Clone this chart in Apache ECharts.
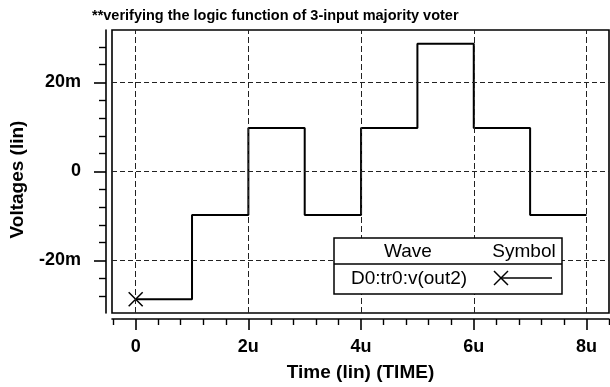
<!DOCTYPE html>
<html>
<head>
<meta charset="utf-8">
<script src="https://cdn.jsdelivr.net/npm/echarts@6/dist/echarts.min.js"></script>
<style>html,body{margin:0;padding:0;background:#fff;}#c{width:610px;height:387px;}</style>
</head>
<body>
<div id="c"></div>
<script>
// time points (u = microseconds) and voltage levels (m = millivolts)
var timeU = [0, 1, 2, 3, 4, 5, 6, 7, 8];
var voltM = [-28.7, -9.8, 9.8, -9.8, 9.8, 28.7, 9.8, -9.8, -9.8];
var xMajor = [0, 2, 4, 6, 8];
var xMinor = [-0.4, 0.4, 0.8, 1.2, 1.6, 2.4, 2.8, 3.2, 3.6, 4.4, 4.8, 5.2, 5.6, 6.4, 6.8, 7.2, 7.6, 8.4];
var yMajor = [-20, 0, 20];
var yMinor = [-28, -24, -16, -12, -8, -4, 4, 8, 12, 16, 24, 28];
var titleText = '**verifying the logic function of 3-input majority voter';
var seriesName = 'D0:tr0:v(out2)';

var FONT = '"Liberation Sans", Arial, sans-serif';
var X = [-0.42, 8.4], Y = [-31.8, 31.8];

var data = timeU.map(function (t, i) {
  var p = { value: [t, voltM[i]] };
  if (i === 0) { p.symbol = 'path://M0,0L10,10M10,0L0,10'; p.symbolSize = 14; }
  else { p.symbol = 'none'; }
  return p;
});

var gridMarks = xMajor.map(function (v) { return { xAxis: v, lineStyle: { type: [6, 3] } }; })
  .concat(yMajor.map(function (v) { return { yAxis: v, lineStyle: { type: [5, 3] } }; }));

function xFmt(v) { return v === 0 ? '0' : v + 'u'; }
function yFmt(v) { return v === 0 ? '0' : v + 'm'; }

var chart = echarts.init(document.getElementById('c'), null, { renderer: 'canvas' });
chart.setOption({
  animation: false,
  backgroundColor: '#fff',
  title: {
    text: titleText, left: 87, top: 3,
    textStyle: { fontFamily: FONT, fontSize: 14.5, fontWeight: 'bold', color: '#000' }
  },
  grid: { left: 109, right: 1, top: 30, bottom: 73, show: true, borderColor: '#000', borderWidth: 1.6, backgroundColor: 'transparent' },
  xAxis: [
    { type: 'value', min: X[0], max: X[1], position: 'bottom', offset: 6,
      axisLine: { show: true, onZero: false, lineStyle: { color: '#000', width: 1.6 } },
      axisTick: { show: true, length: 6, customValues: xMinor, lineStyle: { color: '#000', width: 1.4 } },
      axisLabel: { show: false }, splitLine: { show: false },
      name: 'Time (lin) (TIME)', nameLocation: 'middle', nameGap: 44,
      nameTextStyle: { fontFamily: FONT, fontSize: 19, fontWeight: 'bold', color: '#000' } },
    { type: 'value', min: X[0], max: X[1], position: 'bottom', offset: 6,
      axisLine: { show: false, onZero: false },
      axisTick: { show: true, length: 11, customValues: xMajor, lineStyle: { color: '#000', width: 1.6 } },
      axisLabel: { show: true, customValues: xMajor, formatter: xFmt, margin: 19,
        fontFamily: FONT, fontSize: 18, fontWeight: 'bold', color: '#000' },
      splitLine: { show: false } }
  ],
  yAxis: [
    { type: 'value', min: Y[0], max: Y[1], position: 'left', offset: 6,
      axisLine: { show: true, onZero: false, lineStyle: { color: '#000', width: 1.6 } },
      axisTick: { show: true, length: 7, customValues: yMinor, lineStyle: { color: '#000', width: 1.4 } },
      axisLabel: { show: false }, splitLine: { show: false },
      name: 'Voltages (lin)', nameLocation: 'middle', nameGap: 79, nameRotate: 90,
      nameTextStyle: { fontFamily: FONT, fontSize: 19, fontWeight: 'bold', color: '#000', padding: [0, 16, 0, 0] } },
    { type: 'value', min: Y[0], max: Y[1], position: 'left', offset: 6,
      axisLine: { show: false, onZero: false },
      axisTick: { show: true, length: 12, customValues: yMajor, lineStyle: { color: '#000', width: 1.6 } },
      axisLabel: { show: true, customValues: yMajor, formatter: yFmt, margin: 25,
        fontFamily: FONT, fontSize: 18, fontWeight: 'bold', color: '#000' },
      splitLine: { show: false } }
  ],
  series: [{
    name: seriesName, type: 'line', step: 'end', xAxisIndex: 0, yAxisIndex: 0,
    data: data, showSymbol: true, showAllSymbol: true,
    lineStyle: { color: '#000', width: 2 },
    itemStyle: { color: '#000', borderColor: '#000', borderWidth: 1.5 },
    markLine: { silent: true, symbol: 'none', label: { show: false },
      lineStyle: { color: '#222', width: 1 }, data: gridMarks },
    z: 3
  }],
  graphic: [
    { type: 'rect', z: 100, shape: { x: 334, y: 238, width: 228, height: 56 },
      style: { fill: '#fff', stroke: '#000', lineWidth: 1.5 } },
    { type: 'line', z: 101, shape: { x1: 334, y1: 264, x2: 562, y2: 264 }, style: { stroke: '#000', lineWidth: 1.5 } },
    { type: 'text', z: 101, x: 408, y: 252, style: { text: 'Wave', font: '19px ' + FONT, fill: '#000', align: 'center', verticalAlign: 'middle' } },
    { type: 'text', z: 101, x: 524, y: 252, style: { text: 'Symbol', font: '19px ' + FONT, fill: '#000', align: 'center', verticalAlign: 'middle' } },
    { type: 'text', z: 101, x: 409, y: 279, style: { text: seriesName, font: '19px ' + FONT, fill: '#000', align: 'center', verticalAlign: 'middle' } },
    { type: 'line', z: 101, shape: { x1: 500, y1: 278, x2: 552, y2: 278 }, style: { stroke: '#000', lineWidth: 1.3 } },
    { type: 'polyline', z: 101, shape: { points: [[494, 271], [508, 285]] }, style: { stroke: '#000', lineWidth: 1.5 } },
    { type: 'polyline', z: 101, shape: { points: [[508, 271], [494, 285]] }, style: { stroke: '#000', lineWidth: 1.5 } }
  ]
});
</script>
</body>
</html>
